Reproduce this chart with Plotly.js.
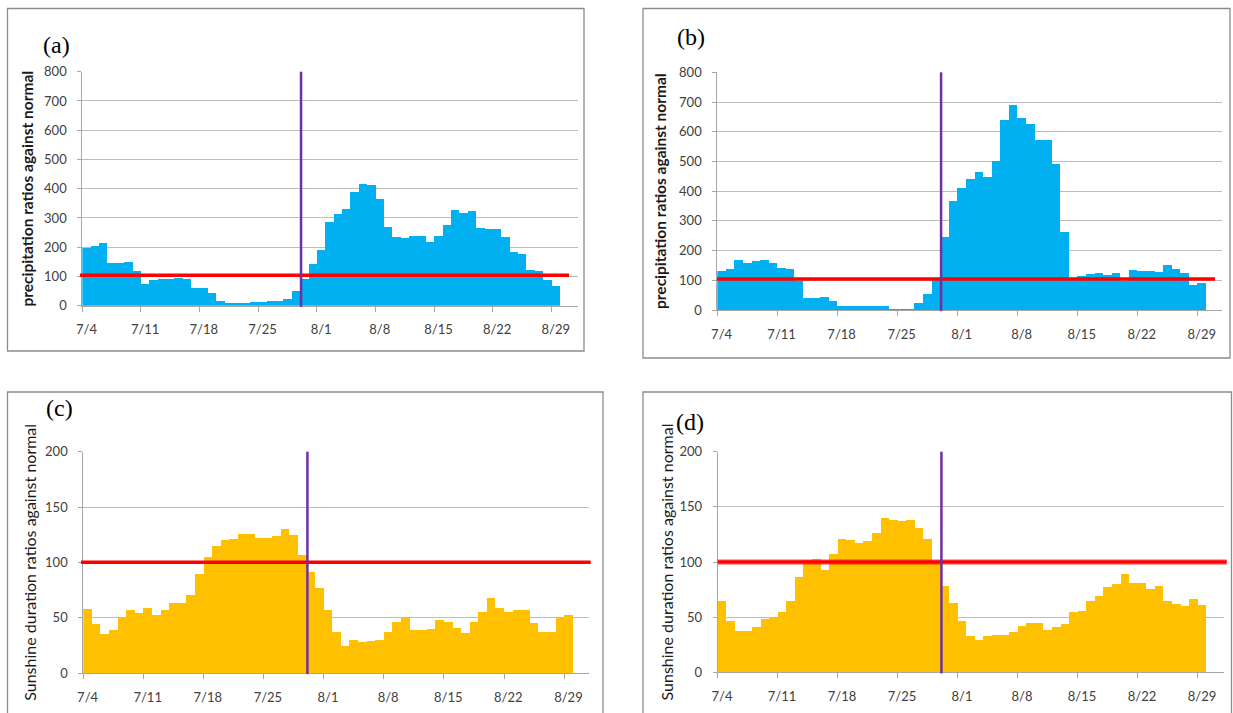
<!DOCTYPE html>
<html>
<head>
<meta charset="utf-8">
<script src="https://cdn.plot.ly/plotly-3.0.1.min.js"></script>
<style>
html,body{margin:0;padding:0;background:#fff;overflow:hidden}
#chart{width:1233px;height:713px}
</style>
</head>
<body>
<div id="chart"></div>
<script>
// ---------------- DATA ----------------
const dates = [
  "2013-07-04","2013-07-05","2013-07-06","2013-07-07","2013-07-08","2013-07-09","2013-07-10",
  "2013-07-11","2013-07-12","2013-07-13","2013-07-14","2013-07-15","2013-07-16","2013-07-17",
  "2013-07-18","2013-07-19","2013-07-20","2013-07-21","2013-07-22","2013-07-23","2013-07-24",
  "2013-07-25","2013-07-26","2013-07-27","2013-07-28","2013-07-29","2013-07-30","2013-07-31",
  "2013-08-01","2013-08-02","2013-08-03","2013-08-04","2013-08-05","2013-08-06","2013-08-07",
  "2013-08-08","2013-08-09","2013-08-10","2013-08-11","2013-08-12","2013-08-13","2013-08-14",
  "2013-08-15","2013-08-16","2013-08-17","2013-08-18","2013-08-19","2013-08-20","2013-08-21",
  "2013-08-22","2013-08-23","2013-08-24","2013-08-25","2013-08-26","2013-08-27","2013-08-28",
  "2013-08-29"
];
const tickDates  = ["2013-07-04","2013-07-11","2013-07-18","2013-07-25","2013-08-01","2013-08-08","2013-08-15","2013-08-22","2013-08-29"];
const tickLabels = ["7/4","7/11","7/18","7/25","8/1","8/8","8/15","8/22","8/29"];

// (a) precipitation ratio
const precipA = [196,203,214,147,145,149,117,73,89,93,
                 93,96,93,59,59,42,16,10,10,8,
                 13,13,16,16,23,50,92,141,190,286,
                 315,332,390,417,414,365,269,235,231,238,
                 240,219,237,276,328,318,323,267,263,263,
                 235,185,178,123,119,87,68];
// (b) precipitation ratio
const precipB = [130,138,169,159,164,169,159,140,138,97,
                 42,42,45,29,15,15,15,15,15,12,
                 3,3,3,24,53,101,247,367,412,440,
                 466,446,502,640,690,645,625,572,572,492,
                 263,100,116,120,126,118,126,99,136,130,
                 130,127,152,138,126,84,92];
// (c) sunshine duration ratio
const sunC = [57.5,44,35,39,50,57,54,59,52,57,
              63.5,63.5,70.5,89.5,104.5,115,120,121,125.5,125.5,
              122,122,124,130,124.5,107,91,76.5,57,37,
              24.5,30,28,29,30,37,46.5,49.5,39,39,
              39.5,48,46,40.5,36,46,55,68,59,55,
              57,57,45,37.5,37,49.5,52.5];
// (d) sunshine duration ratio
const sunD = [65,46.5,37,37.5,41,48.5,50.5,55,65,86,
              102,103,93,107.5,121,120,117,119,126.5,139.5,
              138,137,138,130.5,121,100,78,62.5,46.5,32.5,
              29.5,32.5,33.5,33.5,36.5,42,44.5,44.5,38.5,41,
              44,55,55.5,65,69,77.5,80,89,81,81,
              75.5,78.5,65,62,60,66.5,61];

const normalLevels = [104, 104, 100, 100];
const markDate = "2013-07-30 02:24";
const panelLabels = ["(a)","(b)","(c)","(d)"];
const precipTitle = "precipitation ratios against normal";
const sunTitle = "Sunshine duration ratios against normal";

// ---------------- LAYOUT GEOMETRY (px) ----------------
const W = 1233, H = 713;
const DAY = 86400000;
const t0 = Date.UTC(2013, 6, 4);
function ds(ms){ return new Date(ms).toISOString().replace('T',' ').slice(0,19); }
const px = v => v / W;
const py = v => 1 - v / H;

const panels = [
  {series: precipA, color:'#00B0F0', ymax:800, dtick:100, title:precipTitle, bold:true,
   x0:82.3, x1:578.0, y0:71.7, y1:305.7, days:59.15,
   red:[80, 569], frame:[7.5, 8.5, 584, 351], lab:[56, 45], standoff:6},
  {series: precipB, color:'#00B0F0', ymax:800, dtick:100, title:precipTitle, bold:true,
   x0:717.3, x1:1222.3, y0:72.3, y1:310.0, days:58.9,
   red:[717, 1215], frame:[643, 8.5, 1230, 358], lab:[691, 37], standoff:8},
  {series: sunC, color:'#FFC000', ymax:200, dtick:50, title:sunTitle, bold:false,
   x0:83.3, x1:589.3, y0:451.7, y1:673.0, days:58.93,
   red:[81, 590.7], frame:[7.5, 392, 603, 720], lab:[59, 408], standoff:4},
  {series: sunD, color:'#FFC000', ymax:200, dtick:50, title:sunTitle, bold:false,
   x0:717.7, x1:1224.3, y0:451.7, y1:672.3, days:59.1,
   red:[717.7, 1226.7], frame:[643, 392, 1231.5, 720], lab:[690, 422], standoff:1}
];

const tickFont = {family:'Lato, sans-serif', size:13, color:'#404040'};
const gridColor = '#bcbcbc';
const lineColor = '#a6a6a6';

const traces = [];
const layout = {
  width: W, height: H,
  margin: {l:0, r:0, t:0, b:0},
  paper_bgcolor: '#ffffff',
  plot_bgcolor: '#ffffff',
  showlegend: false,
  bargap: 0,
  shapes: [],
  annotations: []
};

panels.forEach((p, i) => {
  const s = i === 0 ? '' : String(i + 1);
  traces.push({
    type: 'bar',
    x: dates,
    y: p.series,
    xperiod: DAY,
    xperiodalignment: 'middle',
    marker: {color: p.color, line: {width: 0}},
    xaxis: 'x' + s,
    yaxis: 'y' + s,
    hoverinfo: 'skip'
  });

  layout['xaxis' + s] = {
    type: 'date',
    domain: [px(p.x0), px(p.x1)],
    anchor: 'y' + s,
    range: [ds(t0), ds(t0 + p.days * DAY)],
    tickmode: 'array',
    tickvals: tickDates.map(d => d + ' 12:00'),
    ticktext: tickLabels,
    ticks: '',
    showgrid: false,
    zeroline: false,
    showline: true,
    linecolor: lineColor,
    linewidth: 1,
    tickfont: tickFont,
    ticklabelstandoff: 12,
    minor: {tickmode: 'array', tickvals: tickDates, ticks: 'outside', ticklen: 5,
            tickcolor: lineColor, tickwidth: 1, showgrid: false},
    fixedrange: true
  };

  layout['yaxis' + s] = {
    domain: [py(p.y1), py(p.y0)],
    anchor: 'x' + s,
    range: [0, p.ymax],
    tickmode: 'linear',
    tick0: 0,
    dtick: p.dtick,
    ticks: 'outside',
    ticklen: 4,
    tickcolor: lineColor,
    showgrid: true,
    gridcolor: gridColor,
    gridwidth: 1,
    zeroline: false,
    showline: true,
    linecolor: lineColor,
    linewidth: 1,
    tickfont: tickFont,
    ticklabelstandoff: 8,
    title: {
      text: p.title,
      standoff: p.standoff,
      font: {family: 'Lato, sans-serif', size: p.bold ? 15.5 : 16, color: '#1a1a1a', weight: p.bold ? 'bold' : 'normal'}
    },
    fixedrange: true
  };

  // normal reference line (red)
  if (i >= 3) {
    layout.shapes.push({type:'line', layer:'above', xref:'paper', yref:'y' + s,
      x0: px(p.red[0]), x1: px(p.red[1]), y0: normalLevels[i], y1: normalLevels[i],
      line: {color:'rgba(255,0,0,0.35)', width: 6}});
  }
  layout.shapes.push({type:'line', layer:'above', xref:'paper', yref:'y' + s,
    x0: px(p.red[0]), x1: px(p.red[1]), y0: normalLevels[i], y1: normalLevels[i],
    line: {color:'#FF0000', width: 3.5}});

  // purple marker line
  layout.shapes.push({type:'line', layer:'above', xref:'x' + s, yref:'y' + s + ' domain',
    x0: markDate, x1: markDate, y0: -0.005, y1: 1,
    line: {color:'#7030A0', width: 2.5}});

  // panel frame
  layout.shapes.push({type:'rect', layer:'above', xref:'paper', yref:'paper',
    x0: px(p.frame[0]), x1: px(p.frame[2]), y0: py(p.frame[3]), y1: py(p.frame[1]),
    line: {color:'#8c8c8c', width: 1.3}, fillcolor:'rgba(0,0,0,0)'});

  // panel label
  layout.annotations.push({xref:'paper', yref:'paper', x: px(p.lab[0]), y: py(p.lab[1]),
    xanchor:'center', yanchor:'middle', showarrow:false, text: panelLabels[i],
    font: {family:'Liberation Serif, Times New Roman, serif', size: 24, color:'#000'}});
});

Plotly.newPlot('chart', traces, layout, {displayModeBar:false, staticPlot:true});
</script>
</body>
</html>
